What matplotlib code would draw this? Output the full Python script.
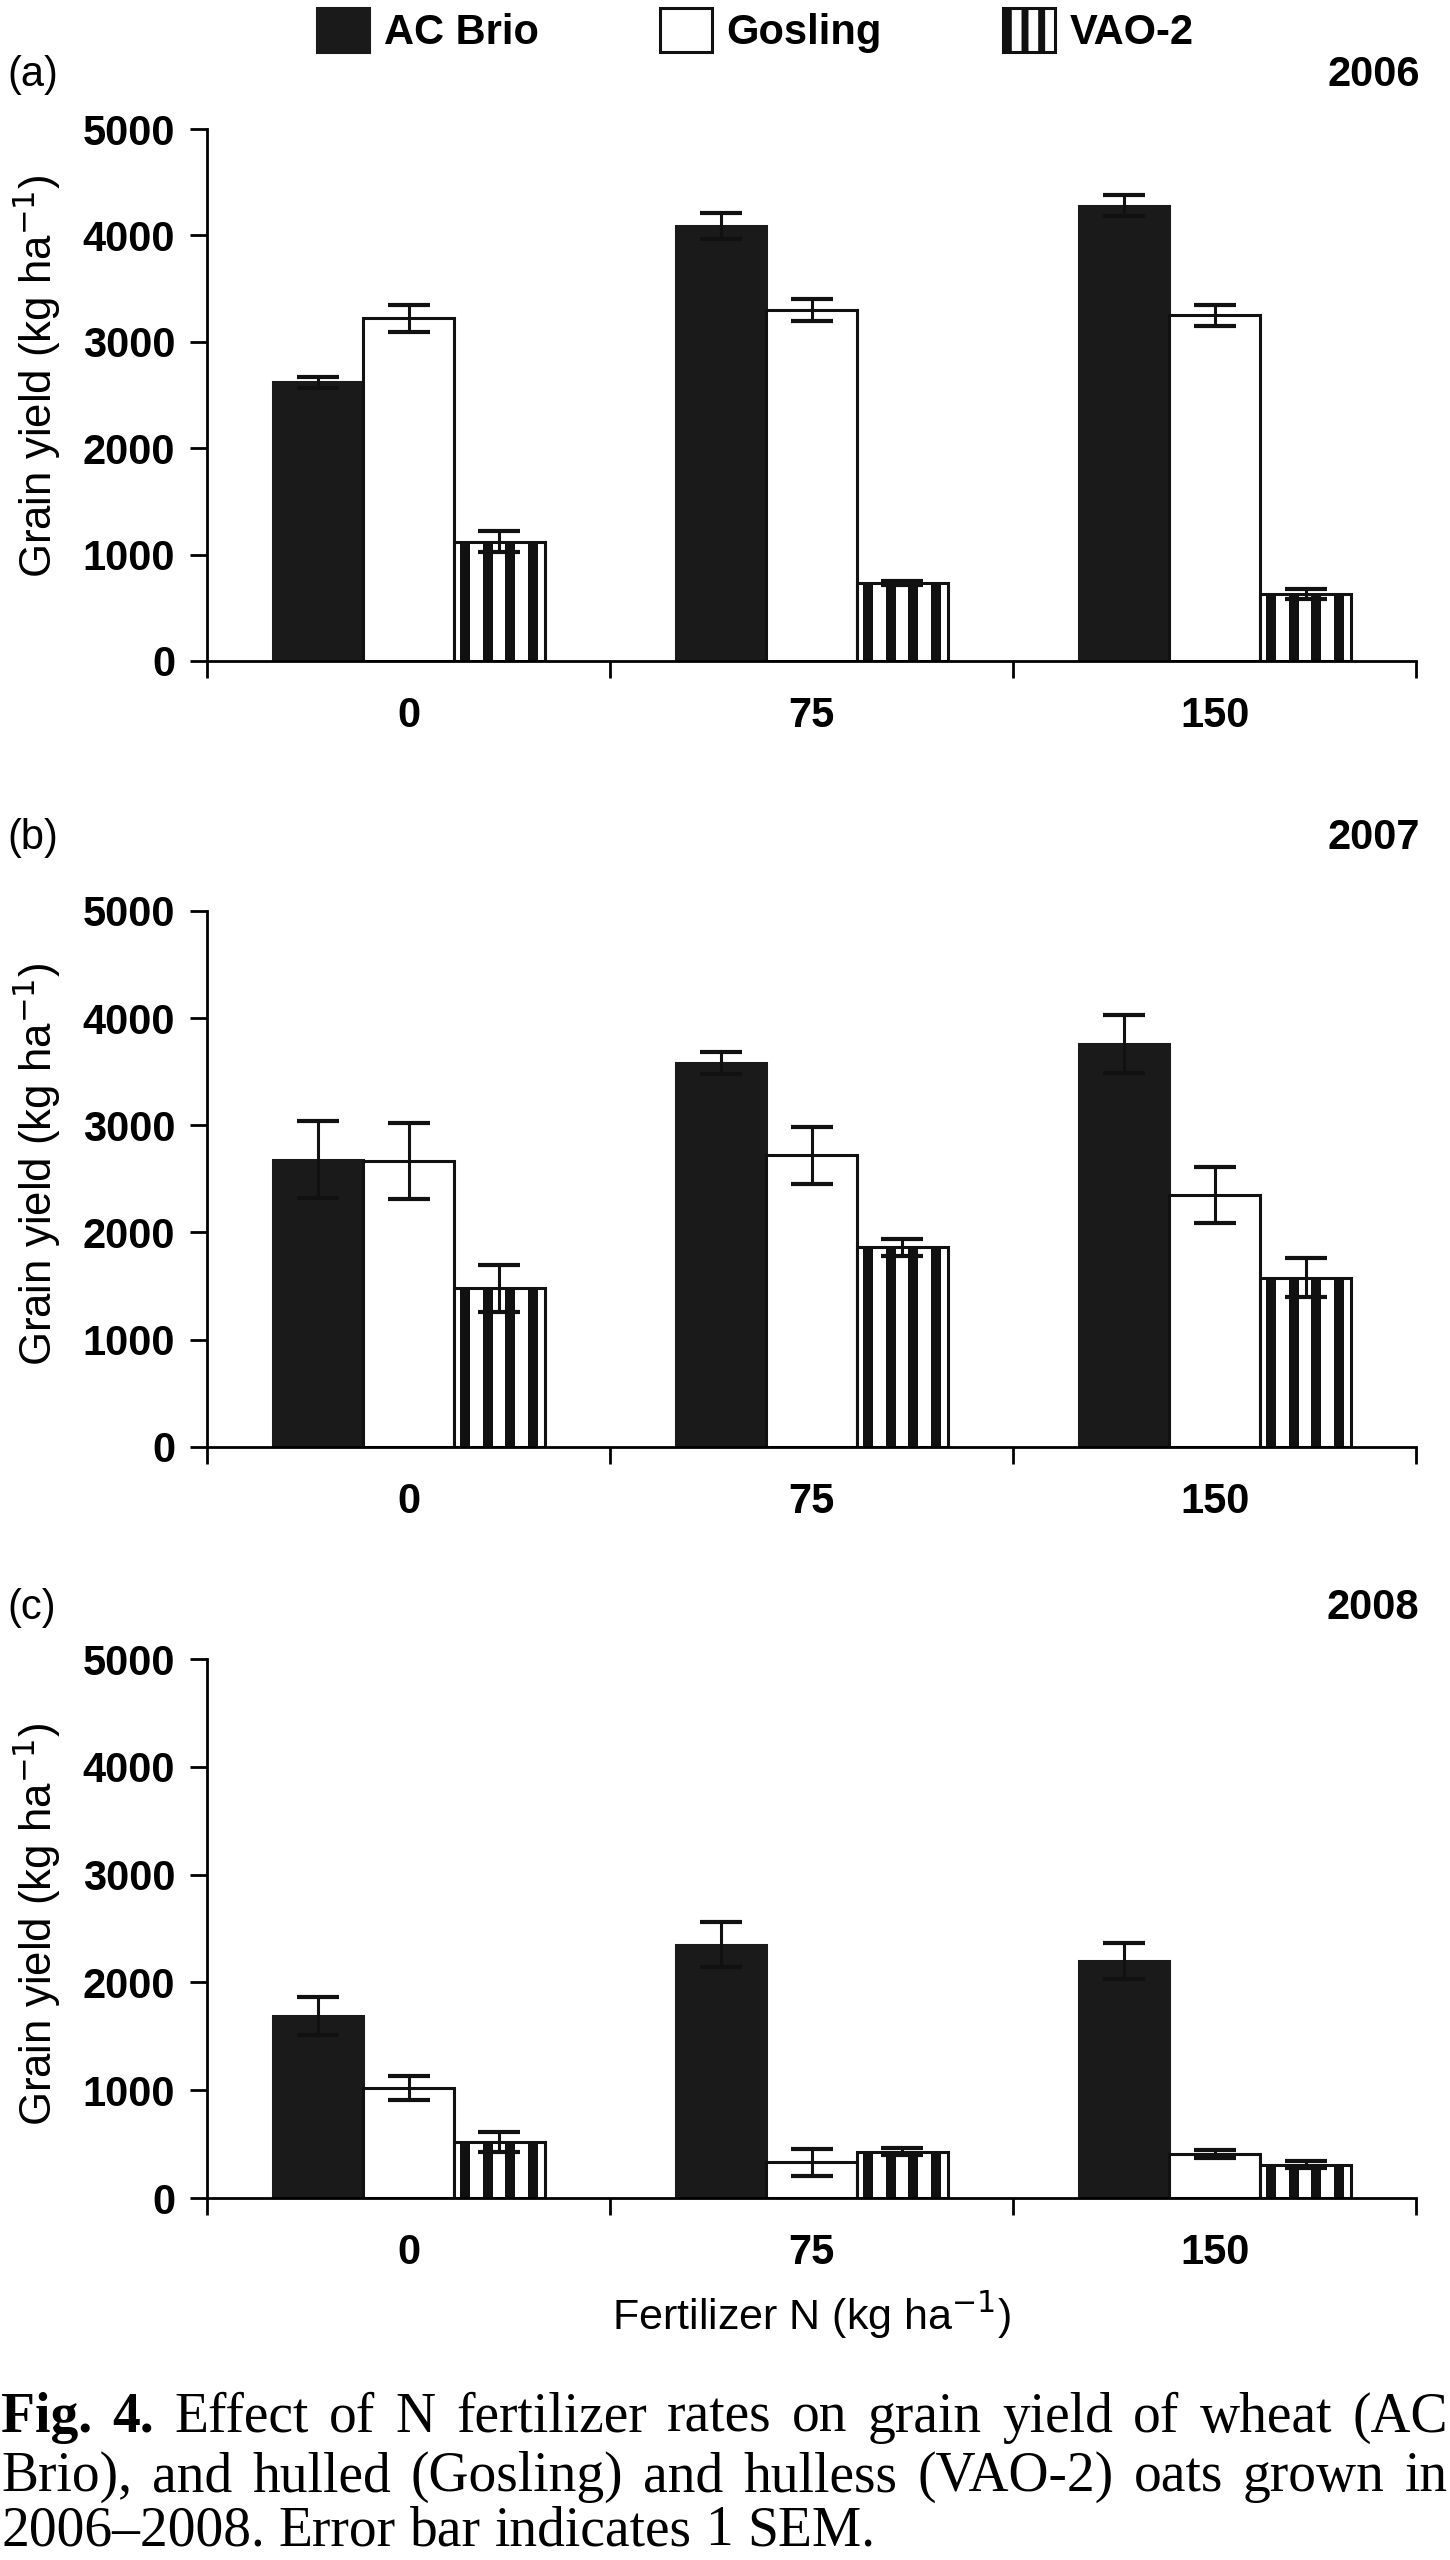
import numpy as np
import matplotlib.pyplot as plt
from matplotlib.patches import Patch

plt.rcParams['font.family'] = ['Liberation Sans', 'DejaVu Sans']
plt.rcParams['hatch.linewidth'] = 5
plt.rcParams['hatch.color'] = '#111111'

# N rates (kg/ha), cultivars, years
rates = ['0', '75', '150']
cultivars = ['AC Brio', 'Gosling', 'VAO-2']
years = ['2006', '2007', '2008']
panel_tags = ['(a)', '(b)', '(c)']

# grain yield (kg/ha), one row per year, columns = N rate
brio_yield = [[2620, 4090, 4280],
              [2680, 3580, 3760],
              [1690, 2350, 2200]]
brio_sem = [[50, 120, 100],
            [360, 100, 270],
            [175, 210, 165]]

gosling_yield = [[3220, 3300, 3250],
                 [2670, 2720, 2350],
                 [1020, 330, 410]]
gosling_sem = [[130, 100, 100],
               [355, 265, 265],
               [110, 125, 35]]

vao_yield = [[1120, 730, 630],
             [1480, 1860, 1580],
             [520, 430, 310]]
vao_sem = [[100, 20, 50],
           [220, 80, 185],
           [95, 30, 30]]

dark = '#1a1a1a'
series = [(brio_yield, brio_sem, dict(color=dark, edgecolor=dark)),
          (gosling_yield, gosling_sem, dict(color='white', edgecolor='#111111')),
          (vao_yield, vao_sem, dict(color='white', edgecolor='#111111'))]

fig = plt.figure(figsize=(14.5, 25.6), dpi=100)

# axes boxes in figure fractions (left, bottom, width, height)
boxes = [(0.1428, 0.7418, 0.834, 0.2078),
         (0.1428, 0.4348, 0.834, 0.2094),
         (0.1428, 0.1414, 0.834, 0.2105)]
tag_y = [0.9707, 0.6727, 0.3719]
ylab_y = [0.535, 0.528, 0.508]

x = np.arange(len(rates))
width = 0.225
offsets = [-0.225, 0.0, 0.225]
# vertical stripes of the VAO-2 bars (fraction of bar width)
stripe_pos = [0.12, 0.37, 0.62, 0.87]
stripe_w = 0.11

for k in range(3):
    ax = fig.add_axes(boxes[k])
    for i, ((vals, sems, style), off) in enumerate(zip(series, offsets)):
        ax.bar(x + off, vals[k], width, linewidth=2.2, zorder=2, **style)
        if i == 2:
            for s in stripe_pos:
                ax.bar(x + off - width / 2 + s * width, vals[k], stripe_w * width,
                       color='#111111', linewidth=0, zorder=2.1)
        ax.errorbar(x + off, vals[k], yerr=sems[k], fmt='none', ecolor='#111111',
                    elinewidth=2.2, capsize=15, capthick=3, zorder=3)

    ax.set_xlim(-0.5, 2.5)
    ax.set_ylim(0, 5000)
    ax.set_yticks(range(0, 5001, 1000))
    ax.set_xticks(x)
    ax.set_xticklabels(rates)
    ax.set_xticks([-0.5, 0.5, 1.5, 2.5], minor=True)
    ax.tick_params(axis='x', which='major', length=0, pad=25, labelsize=30)
    ax.tick_params(axis='x', which='minor', length=12, width=2, direction='out')
    ax.tick_params(axis='y', length=12, width=2, direction='out', pad=11, labelsize=30)
    for lab in ax.get_xticklabels() + ax.get_yticklabels():
        lab.set_fontweight('bold')

    ax.spines['top'].set_visible(False)
    ax.spines['right'].set_visible(False)
    ax.spines['left'].set_linewidth(2)
    ax.spines['bottom'].set_linewidth(2)

    ax.set_ylabel('Grain yield (kg ha$^{-1}$)', fontsize=31.5)
    ax.yaxis.set_label_coords(-0.119, ylab_y[k])

    fig.text(0.005, tag_y[k], panel_tags[k], fontsize=30, ha='left', va='center')
    fig.text(0.979, tag_y[k], years[k], fontsize=30, fontweight='bold', ha='right', va='center')

    if k == 2:
        ax.set_xlabel('Fertilizer N (kg ha$^{-1}$)', fontsize=31, labelpad=12)

handles = [Patch(facecolor=dark, edgecolor=dark, linewidth=2.2),
           Patch(facecolor='white', edgecolor='#111111', linewidth=2.2),
           Patch(facecolor='white', edgecolor='#111111', hatch='|', linewidth=2.2)]
fig.legend(handles, cultivars, loc='center', bbox_to_anchor=(0.521, 0.988), ncol=3,
           frameon=False, prop={'weight': 'bold', 'size': 30},
           handlelength=1.25, handleheight=1.25, handletextpad=0.36, columnspacing=2.9)

# caption, first two lines justified word by word
cap_size = 40
fig.canvas.draw()
renderer = fig.canvas.get_renderer()
W = fig.bbox.width


def caption_line(words, y_px, justify=True):
    texts = []
    for w in words:
        bold = w in ('Fig.', '4.')
        t = fig.text(0, 1 - y_px / 2560, w, fontsize=cap_size, family='Liberation Serif',
                     fontweight='bold' if bold else 'normal', va='baseline', ha='left')
        texts.append(t)
    widths = [t.get_window_extent(renderer).width for t in texts]
    if justify:
        gap = (1447 - sum(widths)) / (len(texts) - 1)
    else:
        gap = 0.25 * cap_size * 100 / 72
    pos = 1
    for t, w in zip(texts, widths):
        t.set_x(pos / W)
        pos += w + gap


caption_line('Fig. 4. Effect of N fertilizer rates on grain yield of wheat (AC'.split(), 2432)
caption_line('Brio), and hulled (Gosling) and hulless (VAO-2) oats grown in'.split(), 2491)
caption_line('2006–2008. Error bar indicates 1 SEM.'.split(), 2545, justify=False)

plt.savefig('out.png', dpi=100)
plt.close()
